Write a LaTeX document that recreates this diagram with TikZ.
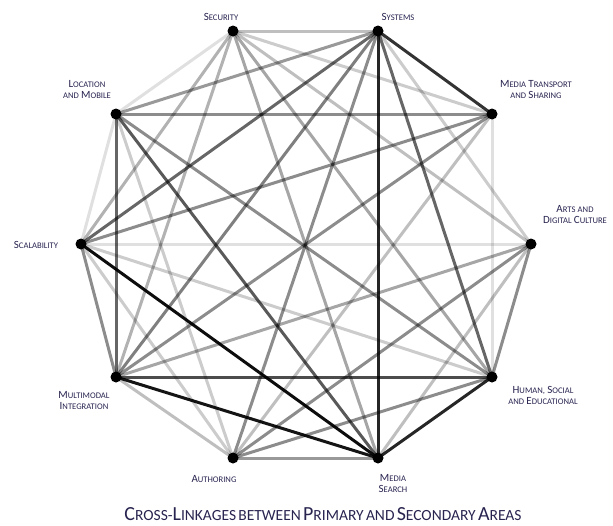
\documentclass[tikz,border=0pt]{standalone}
\usepackage{fontspec}
\setmainfont{Carlito}
\definecolor{lblc}{RGB}{40,36,80}
\newcommand{\Cp}[2]{{\fontsize{11}{12}\selectfont #1}{\fontsize{8.6}{10}\selectfont #2}}
\newcommand{\Cs}[1]{{\fontsize{8.6}{10}\selectfont #1}}
\newcommand{\Tp}[2]{{\fontsize{20}{22}\selectfont #1}{\fontsize{15.5}{18}\selectfont #2}}
\newcommand{\Ts}[1]{{\fontsize{15.5}{18}\selectfont #1}}
\begin{document}
\begin{tikzpicture}[x=1pt,y=-1pt,
  dot/.style={circle,fill=black,inner sep=0pt,minimum size=11pt},
  lbl/.style={text=lblc,align=center,inner sep=0pt},
  ln/.style={line width=3pt,draw=black,draw opacity=#1}]
\useasboundingbox (0,0) rectangle (613,525);
% node positions
\coordinate (se) at (233,31);
\coordinate (sy) at (378,31);
\coordinate (mt) at (492,114);
\coordinate (ad) at (531,244);
\coordinate (hs) at (492,377);
\coordinate (ms) at (378,458);
\coordinate (au) at (233,458);
\coordinate (mi) at (116,377);
\coordinate (sc) at (81,244);
\coordinate (lm) at (116,114);
% edges
\draw[ln=0.25] (sy) -- (se);
\draw[ln=0.8] (sy) -- (mt);
\draw[ln=0.2] (sy) -- (ad);
\draw[ln=0.6] (sy) -- (hs);
\draw[ln=0.85] (sy) -- (ms);
\draw[ln=0.45] (sy) -- (au);
\draw[ln=0.5] (sy) -- (mi);
\draw[ln=0.6] (sy) -- (sc);
\draw[ln=0.4] (sy) -- (lm);
\draw[ln=0.2] (se) -- (mt);
\draw[ln=0.25] (se) -- (ad);
\draw[ln=0.35] (se) -- (hs);
\draw[ln=0.35] (se) -- (ms);
\draw[ln=0.3] (se) -- (mi);
\draw[ln=0.3] (se) -- (sc);
\draw[ln=0.12] (se) -- (lm);
\draw[ln=0.45] (lm) -- (mt);
\draw[ln=0.6] (lm) -- (mi);
\draw[ln=0.12] (lm) -- (sc);
\draw[ln=0.65] (lm) -- (ms);
\draw[ln=0.45] (lm) -- (hs);
\draw[ln=0.2] (lm) -- (au);
\draw[ln=0.95] (sc) -- (ms);
\draw[ln=0.45] (sc) -- (mi);
\draw[ln=0.12] (sc) -- (ad);
\draw[ln=0.45] (sc) -- (mt);
\draw[ln=0.2] (sc) -- (hs);
\draw[ln=0.2] (sc) -- (au);
\draw[ln=0.7] (mi) -- (hs);
\draw[ln=0.92] (mi) -- (ms);
\draw[ln=0.25] (mi) -- (au);
\draw[ln=0.35] (mi) -- (ad);
\draw[ln=0.45] (mi) -- (mt);
\draw[ln=0.85] (hs) -- (ms);
\draw[ln=0.45] (hs) -- (ad);
\draw[ln=0.12] (hs) -- (mt);
\draw[ln=0.45] (hs) -- (au);
\draw[ln=0.4] (ms) -- (au);
\draw[ln=0.25] (ms) -- (ad);
\draw[ln=0.45] (au) -- (ad);
\draw[ln=0.25] (au) -- (mt);
% dots
\foreach \p in {se,sy,mt,ad,hs,ms,au,mi,sc,lm} \node[dot] (d\p) at (\p) {};
% labels
\node[lbl] (tse) at (221,17) {\Cp{S}{ECURITY}};
\node[lbl] (tsy) at (398,17) {\Cp{S}{YSTEMS}};
\node[lbl] (tmt) at (536,90) {\Cp{M}{EDIA} \Cp{T}{RANSPORT}\\[-1pt]\Cs{AND} \Cp{S}{HARING}};
\node[lbl] (tad) at (575,215) {\Cp{A}{RTS} \Cs{AND}\\[-1pt]\Cp{D}{IGITAL} \Cp{C}{ULTURE}};
\node[lbl] (ths) at (543,395) {\Cp{H}{UMAN,} \Cp{S}{OCIAL}\\[-1pt]\Cs{AND} \Cp{E}{DUCATIONAL}};
\node[lbl] (tms) at (393,484) {\Cp{M}{EDIA}\\[-1pt]\Cp{S}{EARCH}};
\node[lbl] (tau) at (214,479) {\Cp{A}{UTHORING}};
\node[lbl] (tmi) at (84,400) {\Cp{M}{ULTIMODAL}\\[-1pt]\Cp{I}{NTEGRATION}};
\node[lbl] (tsc) at (36,245) {\Cp{S}{CALABILITY}};
\node[lbl] (tlm) at (87,89) {\Cp{L}{OCATION}\\[-1pt]\Cs{AND} \Cp{M}{OBILE}};
\node[lbl,anchor=base] (title) at (323,520) {\Tp{C}{ROSS}\Ts{-}\Tp{L}{INKAGES} \Ts{BETWEEN} \Tp{P}{RIMARY} \Ts{AND} \Tp{S}{ECONDARY} \Tp{A}{REAS}};
\end{tikzpicture}
\end{document}
